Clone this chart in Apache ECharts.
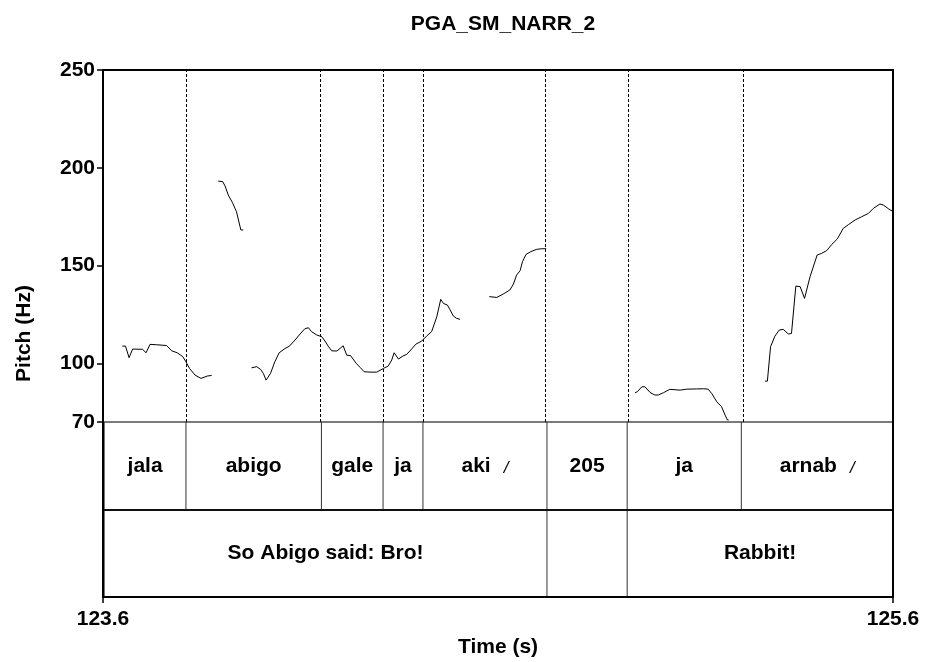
<!DOCTYPE html>
<html>
<head>
<meta charset="utf-8">
<script src="https://cdn.jsdelivr.net/npm/echarts@6/dist/echarts.min.js"></script>
<style>html,body{margin:0;padding:0;background:#fff}#c{width:925px;height:662px}</style>
</head>
<body>
<div id="c"></div>
<script>
// ---------- data ----------
const titleText = 'PGA_SM_NARR_2';
const timeMin = 123.6, timeMax = 125.6;
const pitchTicks = [70, 100, 150, 200, 250];
const timeTicks = [123.6, 125.6];

// pitch contour segments [time (s), pitch (Hz)]
const seg1 = [[123.649,108.8],[123.657,108.8],[123.666,102.9],[123.675,107.3],[123.694,107.2],[123.700,107.2],[123.709,105.4],[123.719,109.7],[123.736,109.5],[123.761,109.1],[123.774,106.4],[123.788,105.4],[123.802,103.4],[123.810,100.8],[123.819,97.4],[123.833,94.0],[123.848,92.3],[123.864,93.5],[123.875,93.8]];
const seg2 = [[123.892,193.2],[123.903,192.9],[123.909,190.7],[123.917,186.1],[123.928,182.1],[123.938,177.5],[123.949,168.2],[123.955,168.2]];
const seg3 = [[123.976,97.7],[123.989,98.3],[123.999,96.9],[124.006,94.8],[124.013,91.4],[124.024,94.8],[124.035,100.8],[124.046,105.4],[124.061,107.6],[124.072,108.8],[124.086,111.9],[124.099,115.0],[124.111,117.7],[124.120,118.2],[124.128,116.2],[124.141,114.5],[124.154,113.6],[124.162,111.4],[124.170,108.8],[124.179,106.4],[124.192,106.3],[124.200,107.6],[124.208,109.0],[124.217,104.2],[124.227,103.9],[124.241,100.0],[124.251,97.9],[124.261,95.7],[124.276,95.5],[124.293,95.5],[124.310,97.4],[124.322,98.6],[124.331,101.7],[124.337,105.4],[124.348,102.2],[124.359,103.7],[124.369,104.6],[124.379,106.8],[124.392,109.8],[124.407,111.4],[124.419,113.9],[124.432,116.2],[124.445,123.8],[124.455,132.7],[124.462,130.6],[124.472,129.8],[124.478,127.6],[124.487,124.2],[124.495,123.0],[124.504,122.5]];
const seg4 = [[124.578,134.1],[124.597,133.7],[124.613,135.4],[124.630,137.5],[124.639,140.5],[124.647,145.1],[124.656,147.4],[124.662,152.0],[124.671,155.7],[124.683,157.1],[124.698,158.3],[124.711,158.6],[124.722,158.6]];
const seg5 = [[124.947,85.0],[124.953,85.5],[124.964,88.0],[124.972,88.0],[124.985,85.1],[124.997,83.8],[125.006,83.8],[125.019,85.0],[125.035,86.7],[125.061,86.3],[125.078,86.8],[125.103,86.9],[125.120,87.0],[125.132,86.8],[125.141,84.6],[125.154,80.3],[125.166,77.8],[125.175,73.5],[125.181,71.0],[125.184,71.0]];
const seg6 = [[125.276,90.9],[125.282,90.9],[125.290,108.5],[125.301,113.9],[125.312,117.0],[125.322,117.4],[125.335,115.0],[125.343,115.3],[125.354,139.5],[125.365,139.2],[125.376,133.2],[125.390,144.3],[125.408,155.4],[125.419,156.2],[125.432,157.6],[125.445,160.8],[125.459,163.6],[125.474,169.0],[125.487,170.9],[125.504,173.3],[125.521,175.0],[125.538,176.7],[125.550,179.2],[125.567,181.5],[125.576,180.9],[125.588,179.1],[125.601,177.5],[125.605,177.0]];

// text grid tiers: interval start times and labels
const tier1Bounds = [123.603, 123.810, 124.153, 124.309, 124.410, 124.724, 124.927, 125.216];
const tier1Labels = ['jala', 'abigo', 'gale', 'ja', 'aki /', '205', 'ja', 'arnab /'];
const tier2Bounds = [123.603, 124.724, 124.927];
const tier2Labels = ['So Abigo said: Bro!', '', 'Rabbit!'];

// ---------- build ----------
const FONT = '"Liberation Sans", Arial, Helvetica, sans-serif';
const FS = 21;

function tierItems(bounds, labels, row) {
  return bounds.map((b, i) => [b, i + 1 < bounds.length ? bounds[i + 1] : timeMax, row, labels[i]]);
}
const tierData = tierItems(tier1Bounds, tier1Labels, 0).concat(tierItems(tier2Bounds, tier2Labels, 1));

function renderTier(params, api) {
  const item = tierData[params.dataIndex];
  const p0 = api.coord([item[0], item[2]]);
  const p1 = api.coord([item[1], item[2] + 1]);
  const children = [{
    type: 'line',
    shape: { x1: p0[0], y1: p0[1], x2: p0[0], y2: p1[1] },
    style: { stroke: '#333', lineWidth: 1 }
  }];
  const label = item[3];
  if (label) {
    let text = '{m|' + label + '}';
    if (/ \/$/.test(label)) {
      text = '{m|' + label.slice(0, -2) + '}{s|/}';
    }
    children.push({
      type: 'text',
      style: {
        text: text,
        x: (p0[0] + p1[0]) / 2,
        y: (p0[1] + p1[1]) / 2,
        align: 'center',
        verticalAlign: 'middle',
        fill: '#000',
        rich: {
          m: { fontFamily: FONT, fontSize: FS, fontWeight: 'bold', fill: '#000' },
          s: { fontFamily: FONT, fontSize: 17, fontStyle: 'italic', fontWeight: 'normal', fill: '#000', padding: [6, 0, 0, 13] }
        }
      }
    });
  }
  return { type: 'group', children: children };
}

const pitchLine = (data) => ({
  type: 'line', xAxisIndex: 0, yAxisIndex: 0, data: data,
  showSymbol: false, symbol: 'none',
  lineStyle: { color: '#000', width: 1 },
  silent: true, animation: false, z: 5
});

const series = [seg1, seg2, seg3, seg4, seg5, seg6].map(pitchLine);
series[0].markLine = {
  silent: true, symbol: ['none', 'none'], animation: false,
  label: { show: false },
  lineStyle: { type: [3, 2], color: '#000', width: 1 },
  data: tier1Bounds.concat(tier2Bounds.slice(1)).map(v => ({ xAxis: v }))
};
series.push({
  type: 'custom', xAxisIndex: 1, yAxisIndex: 1,
  data: tierData.map(d => [d[0], d[1], d[2]]),
  encode: { x: [0, 1], y: 2 },
  renderItem: renderTier,
  silent: true, animation: false, clip: false,
  markLine: {
    silent: true, symbol: ['none', 'none'], animation: false,
    label: { show: false },
    lineStyle: { type: 'solid', color: '#111', width: 2 },
    data: [{ yAxis: 1 }]
  }
});

const labelStyle = { fontFamily: FONT, fontSize: FS, fontWeight: 'bold', color: '#000' };

const option = {
  animation: false,
  backgroundColor: '#fff',
  textStyle: { fontFamily: FONT },
  title: {
    text: titleText, left: 498, top: 9, textAlign: 'center',
    textStyle: { fontFamily: FONT, fontSize: FS, fontWeight: 'bold', color: '#000' }
  },
  grid: [
    { left: 103, top: 70, width: 790, height: 352, show: false },
    { left: 103, top: 422, width: 790, height: 175, show: false },
    { left: 103, top: 70, width: 790, height: 527, show: true, borderColor: '#000', borderWidth: 2, backgroundColor: 'transparent', z: 10 }
  ],
  xAxis: [
    { type: 'value', gridIndex: 0, min: timeMin, max: timeMax,
      axisLine: { show: true, onZero: false, lineStyle: { color: '#7a7a7a', width: 2 } },
      axisTick: { show: false }, axisLabel: { show: false }, splitLine: { show: false } },
    { type: 'value', gridIndex: 1, min: timeMin, max: timeMax, position: 'bottom',
      axisLine: { show: true, onZero: false, lineStyle: { color: '#000', width: 2 } },
      axisTick: { show: true, length: 6, customValues: timeTicks, lineStyle: { color: '#000', width: 1.5 } },
      axisLabel: Object.assign({ show: true, customValues: timeTicks, margin: 12, showMinLabel: true, showMaxLabel: true,
        formatter: v => v.toFixed(1) }, labelStyle),
      splitLine: { show: false },
      name: 'Time (s)', nameLocation: 'middle', nameGap: 40, nameTextStyle: labelStyle },
    { type: 'value', gridIndex: 2, min: 0, max: 1, show: false }
  ],
  yAxis: [
    { type: 'value', gridIndex: 0, min: 70, max: 250,
      axisLine: { show: true, onZero: false, lineStyle: { color: '#000', width: 2 } },
      axisTick: { show: true, length: 6, customValues: pitchTicks, lineStyle: { color: '#000', width: 1.5 } },
      axisLabel: Object.assign({ show: true, customValues: pitchTicks, margin: 8 }, labelStyle),
      splitLine: { show: false } },
    { type: 'value', gridIndex: 1, min: 0, max: 2, inverse: true, show: false },
    { type: 'value', gridIndex: 2, min: 0, max: 1,
      axisLine: { show: false }, axisTick: { show: false }, axisLabel: { show: false }, splitLine: { show: false },
      name: 'Pitch (Hz)', nameLocation: 'middle', nameRotate: 90, nameGap: 68, nameTextStyle: labelStyle }
  ],
  series: series
};

const chart = echarts.init(document.getElementById('c'), null, { renderer: 'canvas' });
chart.setOption(option);
</script>
</body>
</html>
